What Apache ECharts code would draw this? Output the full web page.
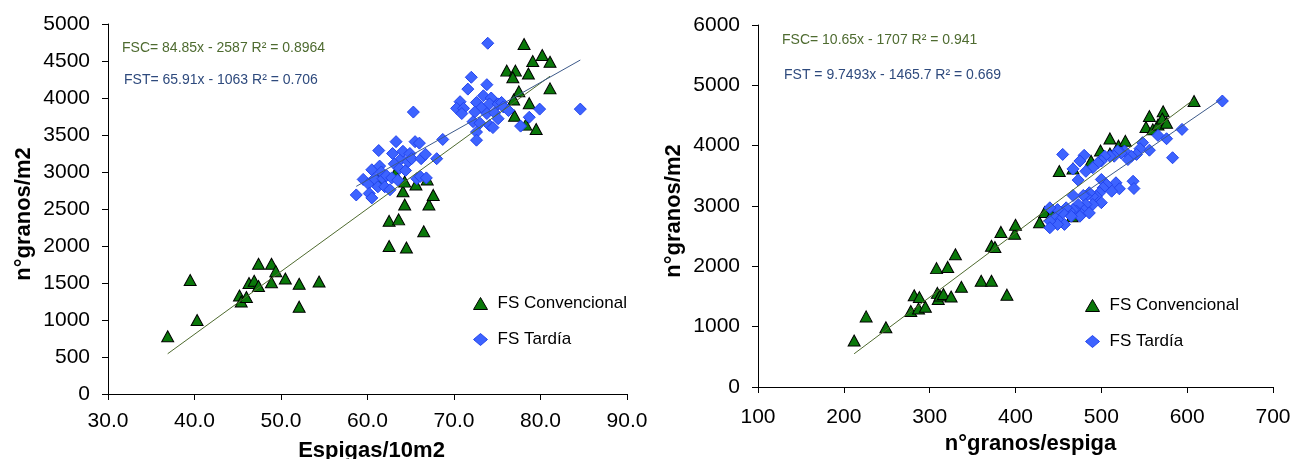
<!DOCTYPE html>
<html>
<head>
<meta charset="utf-8">
<title>Granos/m2</title>
<script src="https://cdn.jsdelivr.net/npm/echarts@6/dist/echarts.min.js"></script>
<style>
html, body { margin: 0; padding: 0; background: #fff; }
#chart { width: 1295px; height: 459px; }
</style>
</head>
<body>
<div id="chart"></div>
<script>
// --- datos ---
// izquierda: espigas/10m2 vs n granos/m2
var izqConvX = [36.9,39.5,40.3,45.2,45.4,46.0,46.3,46.9,47.4,47.4,48.9,48.9,49.4,50.5,52.1,52.1,54.4,
    62.5,64.5,62.5,63.6,66.5,64.3,67.1,67.6,64.1,65.6,64.3,66.9,63.2,61.2,
    78.1,80.2,79.1,81.1,76.1,77.1,76.8,78.6,77.5,81.1,76.9,78.7,77.0,78.3,79.5];
var izqConvY = [780,1540,1000,1330,1250,1310,1500,1530,1760,1460,1760,1510,1660,1560,1490,1180,1520,
    2000,1980,2340,2360,2200,2560,2560,2690,2740,2830,2870,2900,2980,2900,
    4730,4580,4500,4490,4370,4370,4280,4330,4090,4130,3980,3930,3760,3640,3580];
var izqTardX = [58.7,59.5,60.1,60.2,60.5,60.5,60.8,61.2,61.3,61.4,61.6,61.8,62.0,62.2,62.6,62.8,62.9,63.1,63.3,63.5,
    63.7,63.9,64.1,64.4,64.7,64.9,65.1,65.3,65.5,65.7,66.0,66.1,66.2,66.7,66.8,68.0,68.7,
    73.9,72.0,73.8,71.6,73.4,74.3,70.7,72.6,70.3,71.1,70.9,73.2,74.1,75.1,75.5,75.7,72.4,73.8,76.3,74.7,
    72.2,73.0,75.1,74.1,74.5,72.6,72.6,79.9,84.6,78.7,77.7];
var izqTardY = [2690,2900,2840,2710,2650,3030,2910,2800,3290,3080,3000,2910,2800,2950,2760,2920,3250,3110,3410,2890,
    3050,3180,3280,3020,3140,3250,3180,3810,3410,2910,3390,2940,3180,3240,2920,3180,3440,
    4740,4280,4180,4120,4030,4000,3950,3940,3860,3860,3790,3870,3920,3920,3940,3880,3810,3790,3830,3800,
    3680,3660,3720,3630,3600,3540,3430,3850,3850,3740,3620];

// derecha: n granos/espiga vs n granos/m2
var derConvX = [212,226,249,278,282,287,288,295,308,309,310,312,316,321,325,330,337,360,372,372,
    376,383,390,399,400,428,434,442,451,466,467,488,499,510,510,520,528,552,556,560,566,572,571,576,608];
var derConvY = [770,1170,990,1260,1520,1300,1490,1330,1970,1560,1460,1515,1540,1990,1500,2200,1660,1760,1760,2340,
    2320,2570,1530,2540,2690,2730,2900,2860,3580,2830,3620,3750,3920,3870,4120,4000,4080,4310,4490,4270,4350,4570,4450,4380,4740];
var derTardX = [641,594,583,576,566,556,548,545,541,535,531,527,523,519,515,510,504,500,496,490,
    482,480,475,467,455,473,500,537,538,517,521,512,506,502,498,494,490,486,482,479,
    500,490,467,482,479,473,471,467,463,459,455,449,440,477,486,475,465,446,451,457,449,440,440];
var derTardY = [4740,4270,3800,4115,4170,3925,4050,3950,3855,3825,3770,3910,3880,3910,3825,3825,3825,3745,3715,3635,
    3575,3840,3745,3615,3855,3430,3440,3410,3290,3385,3285,3245,3355,3300,3220,3160,3160,3220,3160,3175,
    3055,3025,3175,3025,2940,3025,2915,2940,2915,2970,2885,2940,2970,2860,2885,2830,2830,2805,2750,2695,2695,2750,2640];

// lineas de tendencia: [pendiente, ordenada, x inicio, x fin]
var tendIzqConv = [84.85, -2587, 36.9, 81.1];
var tendIzqTard = [65.91, -1063, 58.7, 84.6];
var tendDerConv = [10.65, -1707, 212, 608];
var tendDerTard = [9.7493, -1465.7, 432, 641];

var ecuaciones = [
    'FSC= 84.85x - 2587 R² = 0.8964',
    'FST= 65.91x - 1063 R² = 0.706',
    'FSC= 10.65x - 1707 R² = 0.941',
    'FST = 9.7493x - 1465.7 R² = 0.669'
];
var nombres = ['FS Convencional', 'FS Tardía'];

function pares(xs, ys) {
    return xs.map(function (x, i) { return [x, ys[i]]; });
}
function recta(t) {
    return [[t[2], t[0] * t[2] + t[1]], [t[3], t[0] * t[3] + t[1]]];
}

var fuente = '"Liberation Sans", Arial, sans-serif';
var verde = '#0a780a', azul = '#3d63ff';

function ejeX(idx, min, max, step, nombre, gap, dec, desp, margen) {
    return {
        gridIndex: idx, type: 'value', min: min, max: max, interval: step,
        name: nombre, nameLocation: 'middle', nameGap: gap,
        nameTextStyle: { fontFamily: fuente, fontSize: 22, fontWeight: 'bold', color: '#000',
                         padding: [0, 0, 0, desp] },
        axisLine: { lineStyle: { color: '#000', width: 1 } },
        axisTick: { show: true, length: 6, lineStyle: { color: '#000' } },
        axisLabel: {
            fontFamily: fuente, fontSize: 21, color: '#000', margin: margen,
            formatter: function (v) { return dec ? v.toFixed(1) : String(v); }
        },
        splitLine: { show: false }
    };
}
function ejeY(idx, max, step, gap) {
    return {
        gridIndex: idx, type: 'value', min: 0, max: max, interval: step,
        name: 'n°granos/m2', nameLocation: 'middle', nameGap: gap,
        nameTextStyle: { fontFamily: fuente, fontSize: 22, fontWeight: 'bold', color: '#000',
                         padding: [0, 10, 0, 0] },
        axisLine: { show: true, lineStyle: { color: '#000', width: 1 } },
        axisTick: { show: true, length: 6, lineStyle: { color: '#000' } },
        axisLabel: { fontFamily: fuente, fontSize: 21, color: '#000', margin: 18,
                     formatter: function (v) { return String(v); } },
        splitLine: { show: false }
    };
}
function puntos(nombre, idx, datos) {
    var conv = nombre === nombres[0];
    return {
        name: nombre, type: 'scatter', xAxisIndex: idx, yAxisIndex: idx,
        symbol: conv ? 'triangle' : 'diamond',
        symbolSize: conv ? [12, 11] : 12,
        itemStyle: conv ? { color: verde, borderColor: '#000', borderWidth: 1, opacity: 1 }
                        : { color: azul, borderColor: '#2244ee', borderWidth: 1, opacity: 1 },
        data: datos
    };
}
function tendencia(idx, t, color) {
    return {
        type: 'line', xAxisIndex: idx, yAxisIndex: idx, data: recta(t),
        symbol: 'none', silent: true, z: 3,
        lineStyle: { color: color, width: 1 }
    };
}
function leyenda(left, top) {
    return {
        left: left, top: top, orient: 'vertical', itemGap: 19,
        itemWidth: 14, itemHeight: 12, selectedMode: false,
        textStyle: { fontFamily: fuente, fontSize: 17, color: '#000', padding: [0, 0, 0, 5] },
        data: [{ name: nombres[0], icon: 'triangle', itemStyle: { color: verde, borderColor: '#000', borderWidth: 1 } },
               { name: nombres[1], icon: 'diamond', itemStyle: { color: azul, borderColor: '#2244ee', borderWidth: 1 } }]
    };
}
function texto(x, y, str, color) {
    return {
        type: 'text', left: x, top: y,
        style: { text: str, fill: color, font: '14px ' + fuente }
    };
}

var chart = echarts.init(document.getElementById('chart'));
chart.setOption({
    animation: false,
    backgroundColor: '#fff',
    grid: [
        { left: 108, right: 668, top: 24, bottom: 65, containLabel: false, outerBoundsMode: 'none' },
        { left: 758, right: 22, top: 25, bottom: 72, containLabel: false, outerBoundsMode: 'none' }
    ],
    xAxis: [
        ejeX(0, 30, 90, 10, 'Espigas/10m2', 46, true, 8, 17),
        ejeX(1, 100, 700, 100, 'n°granos/espiga', 33, false, 30, 20)
    ],
    yAxis: [ejeY(0, 5000, 500, 73), ejeY(1, 6000, 1000, 73)],
    legend: [leyenda(468, 290), leyenda(1080, 292)],
    graphic: [
        texto(122, 41, ecuaciones[0], '#4e6b30'),
        texto(124, 73, ecuaciones[1], '#2e4a7d'),
        texto(782, 33, ecuaciones[2], '#4e6b30'),
        texto(784, 68, ecuaciones[3], '#2e4a7d')
    ],
    series: [
        puntos(nombres[0], 0, pares(izqConvX, izqConvY)),
        puntos(nombres[1], 0, pares(izqTardX, izqTardY)),
        tendencia(0, tendIzqConv, '#4f6b2f'),
        tendencia(0, tendIzqTard, '#3d5a8a'),
        puntos(nombres[0], 1, pares(derConvX, derConvY)),
        puntos(nombres[1], 1, pares(derTardX, derTardY)),
        tendencia(1, tendDerConv, '#4f6b2f'),
        tendencia(1, tendDerTard, '#3d5a8a')
    ]
});
</script>
</body>
</html>
